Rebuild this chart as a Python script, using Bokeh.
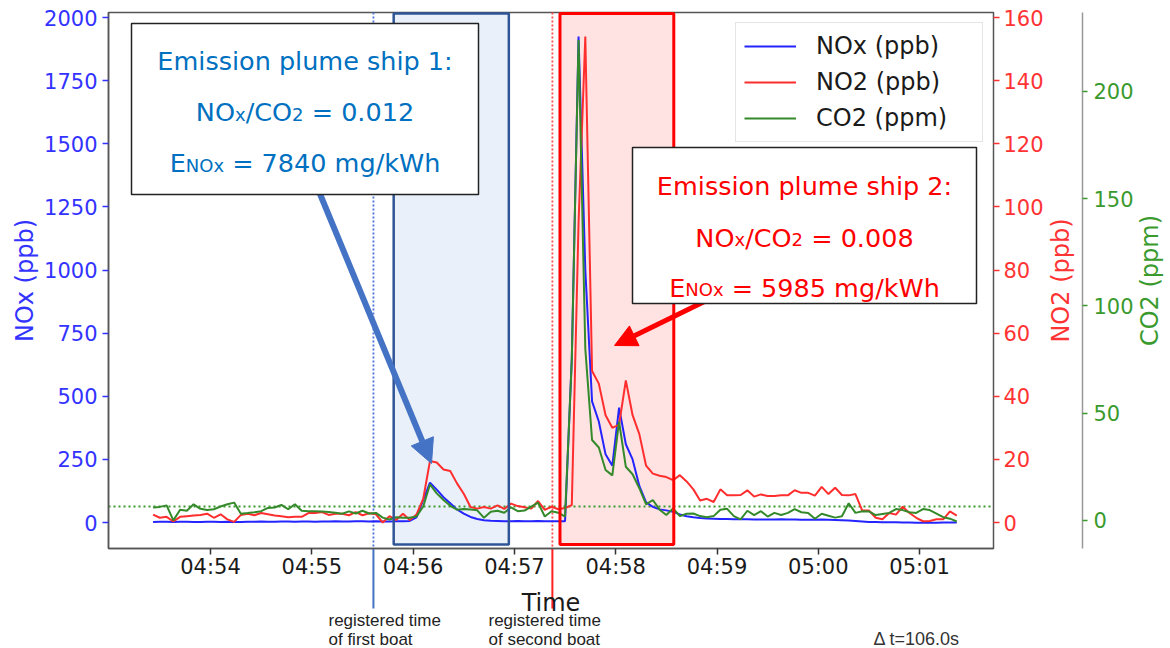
import math
import pandas as pd
from bokeh.plotting import figure
from bokeh.models import (Range1d, LinearAxis, FixedTicker, DatetimeTickFormatter,
                          BoxAnnotation, Arrow, NormalHead, Label, Legend, LegendItem)
from bokeh.embed import file_html
from bokeh.resources import INLINE

# ---------------- data ----------------
DAY = "2021-06-01 "
start_time = "04:53:26"
step_seconds = 4

nox_ppb = [2, 3, 3, 2, 3, 3, 2, 2, 3, 3,
           2, 3, 2, 2, 3, 3, 4, 3, 3, 4,
           4, 3, 4, 4, 3, 4, 4, 5, 4, 4,
           5, 5, 4, 5, 4, 4, 5, 5, 6,
           20, 90, 158, 130, 100, 76, 52, 35, 22, 14, 9,
           7, 6, 5, 5, 6, 5, 5, 6, 5, 5, 5, 5,
           650, 1925, 1000, 480, 400, 270, 225, 455,
           310, 250, 145, 80, 62, 52, 48, 42, 32, 25,
           21, 18, 16, 15, 14, 14, 13, 13, 13, 12,
           12, 12, 12, 13, 12, 12, 11, 11, 11, 12,
           11, 10, 9, 8, 6, 4, 2, 2, 1, 1,
           1, 0, 0, -1, -1, -1, -1, 0, 0, 0]

no2_ppb = [2.5, 1.5, 1.8, 0.3, 1.8, 2.0, 2.2, 2.4, 2.8, 1.5,
           2.6, 1.0, 0.2, 2.4, 2.8, 2.3, 3.0, 2.6, 2.2, 2.0,
           1.7, 1.8, 1.8, 3.0, 3.0, 3.3, 2.4, 2.8, 2.8, 2.3,
           3.3, 2.3, 2.9, 2.6, 0.0, 2.0, 0.8, 2.8, 0.8, 2.5,
           7.5, 19.5, 19.0, 16.8, 16.3, 12.4, 9.1, 4.9, 4.4, 4.9,
           4.4, 5.4, 4.3, 6.0, 5.2, 4.8, 4.4, 6.8, 4.0, 5.0,
           4.2, 4.6, 5.5, 95, 154, 48, 44, 34, 30, 31,
           45, 34, 28, 18, 15.5, 14.8, 14.4, 13.4, 15.0, 13.0,
           10.5, 7.0, 7.5, 6.5, 10.5, 8.6, 8.6, 8.7, 10.2, 8.2,
           8.9, 8.4, 8.4, 8.6, 8.6, 10.2, 9.4, 9.4, 8.5, 11.3,
           9.0, 11.0, 8.7, 8.6, 9.0, 3.8, 3.8, 1.5, 1.0, 3.0,
           2.5, 5.0, 3.0, 1.5, 0.4, 0.5, 1.0, 1.0, 3.5, 2.2]

co2_ppm = [6.0, 6.3, 7.0, 0.0, 5.0, 4.5, 7.5, 5.4, 4.8, 5.2,
           6.5, 7.5, 8.3, 3.1, 3.4, 3.8, 4.3, 5.8, 6.0, 7.2,
           5.2, 7.5, 4.5, 4.3, 4.3, 4.1, 3.9, 3.6, 3.1, 4.2,
           3.2, 4.5, 3.2, 3.5, 1.3, 0.4, 1.5, 1.2, 1.2, 1.8,
           6.5, 16.8, 12.6, 9.5, 6.8, 5.0, 5.3, 5.1, 4.7, 1.2,
           4.0, 4.5, 3.6, 6.1, 4.3, 4.6, 6.4, 8.3, 1.8, 4.3,
           3.6, 1.8, 75, 224, 80, 37.5, 34, 23.5, 21, 46,
           25, 21.5, 15, 7.5, 9.5, 5.0, 2.5, 5.6, 2.0, 3.1,
           3.2, 2.0, 1.5, 2.0, 5.0, 5.4, 2.0, 0.5, 4.5, 2.5,
           4.3, 1.8, 3.5, 2.5, 3.5, 5.3, 3.8, 3.5, 0.8, 3.1,
           2.2, 1.3, 1.9, 8.0, 3.5, 4.3, 4.2, 2.5, 3.0, 3.5,
           5.3, 4.8, 3.8, 3.5, 5.3, 4.8, 3.2, 1.5, 0.8, -0.5]

x_tick_labels = ["04:54", "04:55", "04:56", "04:57", "04:58", "04:59", "05:00", "05:01"]
nox_ticks = [0, 250, 500, 750, 1000, 1250, 1500, 1750, 2000]
no2_ticks = [0, 20, 40, 60, 80, 100, 120, 140, 160]
co2_ticks = [0, 50, 100, 150, 200]

registered_time_1 = "04:55:36.5"
registered_time_2 = "04:57:22.5"
plume_1 = ("04:55:48.5", "04:56:56.7")
plume_2 = ("04:57:27.0", "04:58:34.4")
co2_background = 6.5
delta_t_s = 106.0
ship_1 = {"name": "Emission plume ship 1:", "ratio": "0.012", "e_nox": "7840"}
ship_2 = {"name": "Emission plume ship 2:", "ratio": "0.008", "e_nox": "5985"}

# ---------------- helpers ----------------
def ms(hms):
    return pd.Timestamp(DAY + hms).value / 1e6

times = pd.date_range(DAY + start_time, periods=len(nox_ppb), freq=f"{step_seconds}s")

W, H = 1170, 648
# layout mapping (canvas pixel -> data units); the frame covers the whole canvas
T54 = ms("04:54:00")
MS_PER_PX = 60000.0 / 101.3
NOX_PER_PX = 2123.0 / 536.0
CO2_PER_PX = 249.9 / 536.0
NOX_RATIO = 12.5  # NOx / NO2 axis scale ratio

def px_x(px):
    return T54 + (px - 210.0) * MS_PER_PX

def px_y(py):
    return (522.0 - py) * NOX_PER_PX

def px_co2(py):
    return (519.9 - py) * CO2_PER_PX

FL, FR, FT, FB = 108, 993, 12, 548   # plotting area box

FONT = "DejaVu Sans"
BLUE = "#2424ff"
RED = "#ff2e2e"
GREEN = "#348a2a"
BLUE_TXT = "#3333ff"
RED_TXT = "#ff3333"
GREEN_TXT = "#3a9a2e"

# ---------------- figure ----------------
p = figure(width=W, height=H, x_axis_type="datetime",
           x_range=Range1d(px_x(0), px_x(W)), y_range=Range1d(px_y(H), px_y(0)),
           output_backend="svg", toolbar_location=None,
           min_border_left=0, min_border_right=0, min_border_top=0, min_border_bottom=0)
p.grid.visible = False
p.outline_line_color = None
p.background_fill_color = "white"
p.border_fill_color = "white"
p.extra_y_ranges = {"no2": Range1d(px_y(H) / NOX_RATIO, px_y(0) / NOX_RATIO),
                    "co2": Range1d(px_co2(H), px_co2(0))}

def style_axis(ax, tick_color, txt_color, tick_out=6, standoff=4):
    ax.major_label_text_font = FONT
    ax.major_label_text_font_size = "21px"
    ax.major_label_text_color = txt_color
    ax.major_tick_line_color = tick_color
    ax.major_tick_line_width = 1.5
    ax.major_tick_out = tick_out
    ax.major_tick_in = 0
    ax.minor_tick_line_color = None
    ax.major_label_standoff = standoff
    ax.axis_label = None

# x axis (fixed at the bottom of the plotting area)
xa = p.xaxis[0]
xa.ticker = FixedTicker(ticks=[ms(t + ":00") for t in x_tick_labels])
xa.formatter = DatetimeTickFormatter(seconds="%H:%M", minsec="%H:%M", minutes="%H:%M",
                                     hourmin="%H:%M", hours="%H:%M", milliseconds="%H:%M")
xa.fixed_location = px_y(FB)
xa.bounds = (px_x(FL), px_x(FR))
style_axis(xa, "#333333", "#1a1a1a", standoff=0)
xa.axis_line_color = "#555555"
xa.axis_line_width = 1.5

# left NOx axis
ya = p.yaxis[0]
ya.ticker = FixedTicker(ticks=nox_ticks)
ya.fixed_location = px_x(FL)
ya.bounds = (px_y(FB), px_y(FT))
style_axis(ya, BLUE_TXT, BLUE_TXT, standoff=5)
ya.axis_line_color = "#555555"
ya.axis_line_width = 1.5

# right NO2 and CO2 axes
ax_no2 = LinearAxis(y_range_name="no2", ticker=FixedTicker(ticks=no2_ticks),
                    fixed_location=px_x(FR), bounds=(px_y(FB) / NOX_RATIO, px_y(FT) / NOX_RATIO))
style_axis(ax_no2, RED_TXT, RED_TXT, standoff=4)
ax_no2.axis_line_color = None
ax_co2 = LinearAxis(y_range_name="co2", ticker=FixedTicker(ticks=co2_ticks),
                    fixed_location=px_x(1082), bounds=(px_co2(FB), px_co2(FT)))
style_axis(ax_co2, GREEN_TXT, GREEN_TXT, tick_out=5, standoff=6)
ax_co2.axis_line_color = "#999999"
ax_co2.axis_line_width = 1.5
p.add_layout(ax_no2, "right")
p.add_layout(ax_co2, "right")

# axis titles
for txt, x, y, ang, col in [("NOx (ppb)", 24, 280, math.pi / 2, BLUE_TXT),
                            ("NO2 (ppb)", 1060, 280, math.pi / 2, RED_TXT),
                            ("CO2 (ppm)", 1149, 280, math.pi / 2, GREEN_TXT)]:
    p.add_layout(Label(x=px_x(x), y=px_y(y), text=txt, angle=ang, text_font=FONT,
                       text_font_size="24px", text_color=col, text_align="center",
                       text_baseline="middle"))
p.add_layout(Label(x=px_x((FL + FR) / 2), y=px_y(602), text="Time", text_font=FONT,
                   text_font_size="24px", text_color="#1a1a1a", text_align="center",
                   text_baseline="alphabetic"))

# frame (top / right edges)
p.add_layout(BoxAnnotation(left=px_x(FL), right=px_x(FR), top=px_y(FT), bottom=px_y(FB),
                           fill_alpha=0, line_color="#555555", line_alpha=1, line_width=1.5,
                           level="underlay"))

# shaded plume windows (fill under the lines)
for (t0, t1), col in [(plume_1, "#4472c4"), (plume_2, "#ff0000")]:
    p.add_layout(BoxAnnotation(left=ms(t0), right=ms(t1), top=px_y(13), bottom=px_y(544),
                               fill_color=col, fill_alpha=0.11, line_color=None, level="underlay"))

# background CO2 level and registered times (dotted inside the plotting area)
p.segment(x0=[px_x(FL)], y0=[co2_background], x1=[px_x(FR)], y1=[co2_background],
          y_range_name="co2", line_color="#3a9a2e", line_dash="2 3", line_width=2)
p.segment(x0=[ms(registered_time_1)], y0=[px_y(FT)], x1=[ms(registered_time_1)], y1=[px_y(FB)],
          line_color="#4a72d8", line_dash="2 2", line_width=1.8)
p.segment(x0=[ms(registered_time_2)], y0=[px_y(FT)], x1=[ms(registered_time_2)], y1=[px_y(FB)],
          line_color="#ff4a4a", line_dash="2 2", line_width=1.8)

# data lines
r_nox = p.line(times, nox_ppb, line_color=BLUE, line_width=2)
r_no2 = p.line(times, no2_ppb, line_color=RED, line_width=2, y_range_name="no2")
r_co2 = p.line(times, co2_ppm, line_color=GREEN, line_width=2, y_range_name="co2")

# plume window borders (over the lines)
p.add_layout(BoxAnnotation(left=ms(plume_1[0]), right=ms(plume_1[1]), top=px_y(13), bottom=px_y(544),
                           fill_alpha=0, line_color="#2f5597", line_alpha=1, line_width=2.5,
                           level="overlay"))
p.add_layout(BoxAnnotation(left=ms(plume_2[0]), right=ms(plume_2[1]), top=px_y(13), bottom=px_y(544),
                           fill_alpha=0, line_color="#ff0000", line_alpha=1, line_width=3,
                           level="overlay"))

legend = Legend(items=[LegendItem(label="NOx (ppb)", renderers=[r_nox]),
                       LegendItem(label="NO2 (ppb)", renderers=[r_no2]),
                       LegendItem(label="CO2 (ppm)", renderers=[r_co2])],
                location=(735, H - 142), padding=8, spacing=6,
                glyph_width=52, glyph_height=30, label_height=30, label_width=158,
                label_standoff=20, label_text_font=FONT, label_text_font_size="24px",
                label_text_color="#1a1a1a", border_line_color="#cccccc",
                background_fill_alpha=0.85)
p.add_layout(legend)

# arrows (added before the text boxes so the boxes cover their tails)
p.add_layout(Arrow(end=NormalHead(size=24, fill_color="#4472c4", line_color="#4472c4"),
                   x_start=px_x(316), y_start=px_y(185), x_end=px_x(431), y_end=px_y(463),
                   line_color="#4472c4", line_width=6, level="overlay"))
p.add_layout(Arrow(end=NormalHead(size=22, fill_color="#ff0000", line_color="#ff0000"),
                   x_start=px_x(706), y_start=px_y(300), x_end=px_x(614), y_end=px_y(345),
                   line_color="#ff0000", line_width=5, level="overlay"))

# text boxes
NB = "\u00a0"
DV = {" ": 651, NB: 651, ".": 651, "/": 690, "=": 1716, "C": 1430, "E": 1294, "N": 1532,
      "O": 1612, "W": 2025, "g": 1300, "h": 1298, "k": 1186, "m": 1995, "x": 1212}
for d in "0123456789":
    DV[d] = 1303

def text_w(s, size):
    return sum(DV[c] for c in s) / 2048.0 * size

def add_line(pieces, cx, base_y, color):
    total = sum(text_w(t, sz) for t, sz, dy in pieces)
    cur = cx - total / 2.0
    for t, sz, dy in pieces:
        p.add_layout(Label(x=px_x(cur), y=px_y(base_y + dy), text=t, text_font=FONT,
                           text_font_size=f"{sz}px", text_color=color, text_align="left",
                           text_baseline="alphabetic", level="overlay"))
        cur += text_w(t, sz)

BIG, SUB = 25.5, 18
for ship, (l, r, t, b), color, bases in [
        (ship_1, (131, 478, 23, 194), "#0070c0", (60, 111.7, 162.7)),
        (ship_2, (632, 976, 147, 303), "#ff0000", (185, 237, 287))]:
    p.add_layout(BoxAnnotation(left=px_x(l), right=px_x(r), top=px_y(t), bottom=px_y(b),
                               fill_color="white", fill_alpha=1, line_color="#222222",
                               line_alpha=1, line_width=1.5, level="overlay"))
    cx = (l + r) / 2.0
    p.add_layout(Label(x=px_x(cx), y=px_y(bases[0]), text=ship["name"], text_font=FONT,
                       text_font_size=f"{BIG}px", text_color=color, text_align="center",
                       text_baseline="alphabetic", level="overlay"))
    add_line([("NO", BIG, 0), ("x", SUB, 2), ("/CO", BIG, 0), ("2", SUB, 2),
              (NB + "= " + ship["ratio"], BIG, 0)], cx, bases[1], color)
    add_line([("E", BIG, 0), ("NOx", SUB, 2), (NB + "= " + ship["e_nox"] + " mg/kWh", BIG, 0)],
             cx, bases[2], color)

# registered-time markers below the axis
for t, col, lx, lines in [(registered_time_1, "#4472c4", 328, ("registered time", "of first boat")),
                          (registered_time_2, "#ff2020", 488, ("registered time", "of second boat"))]:
    p.segment(x0=[ms(t)], y0=[px_y(FB)], x1=[ms(t)], y1=[px_y(608)], line_color=col, line_width=2)
    for k, txt in enumerate(lines):
        p.add_layout(Label(x=px_x(lx), y=px_y(620 + 19 * k), text=txt, text_font="Liberation Sans",
                           text_font_size="17px", text_color="#222222", text_align="left",
                           text_baseline="alphabetic", level="overlay"))

p.add_layout(Label(x=px_x(873), y=px_y(638), text=f"\u0394 t={delta_t_s:.1f}s",
                   text_font="Liberation Sans", text_font_size="18px", text_color="#333333",
                   text_align="left", text_baseline="alphabetic", level="overlay"))

open("out.html", "w").write(file_html(p, INLINE))
